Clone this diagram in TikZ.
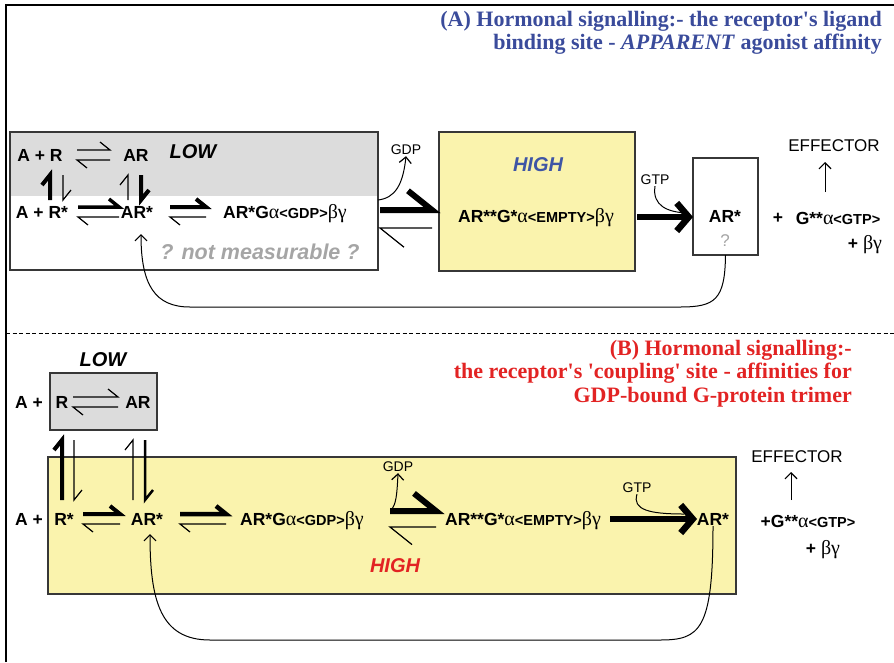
\documentclass[tikz,border=0pt]{standalone}
\usepackage{fontspec}
\setmainfont{Liberation Serif}
\setsansfont{Liberation Sans}
\newfontfamily\headserif{Liberation Serif}[Ligatures=TeXOff]
\usetikzlibrary{arrows.meta}

\definecolor{boxgrey}{RGB}{220,220,220}
\definecolor{paleyellow}{RGB}{250,243,173}
\definecolor{titleblue}{RGB}{58,75,155}
\definecolor{titlered}{RGB}{226,35,35}
\definecolor{highblue}{RGB}{62,85,165}
\definecolor{qgrey}{RGB}{165,165,165}
\definecolor{edgegrey}{RGB}{55,55,55}

% Greek letters in the serif face, bracketed tags slightly smaller
\newcommand{\gk}[1]{{\rmfamily\mdseries\fontsize{20}{20}\selectfont #1}}
\newcommand{\tagtxt}[1]{{\fontsize{14.5}{14.5}\selectfont #1}}

% equilibrium harpoons: [barb]{x1}{x2}{y}{half gap}{top width}{bottom width}
\newcommand{\eqpair}[7][10]{%
  \draw[line width=#6, line join=miter] (#2,#4-#5) -- (#3,#4-#5) -- ++(-#1,-0.8*#1);
  \draw[line width=#7, line join=miter] (#3,#4+#5) -- (#2,#4+#5) -- ++(#1,0.8*#1);}
% vertical harpoons: {x}{top}{bottom}{width}
\newcommand{\harpup}[4]{\draw[line width=#4, line join=miter] (#1,#3) -- (#1,#2) -- ++(-8,10);}
\newcommand{\harpdown}[4]{\draw[line width=#4, line join=miter] (#1,#2) -- (#1,#3) -- ++(8,-10);}

\tikzset{
  species/.style={font=\sffamily\bfseries\fontsize{17.5}{19}\selectfont, inner sep=1pt},
  plaintxt/.style={font=\sffamily\fontsize{17}{19}\selectfont, inner sep=1pt},
  smalltxt/.style={font=\sffamily\fontsize{14}{16}\selectfont, inner sep=1pt},
  regime/.style={font=\sffamily\bfseries\itshape\fontsize{20}{22}\selectfont, inner sep=1pt},
  remark/.style={font=\sffamily\bfseries\itshape\fontsize{21.5}{23}\selectfont, inner sep=1pt},
  heading/.style={font=\headserif\bfseries\fontsize{22}{23.5}\selectfont, align=right, anchor=north east, inner sep=0pt},
  panel/.style={draw=edgegrey, line width=1.4pt},
  blank/.style={inner sep=0pt, outer sep=0pt, anchor=north west},
  link/.style={line width=1pt, -{Straight Barb[length=6pt,width=12pt,line width=1.2pt]}},
  bigarrow/.style={line width=6pt, -{Straight Barb[length=12pt,width=28pt,line width=6.5pt]}},
}

\begin{document}
\begin{tikzpicture}[x=1pt,y=-1pt]
\useasboundingbox (0,0) rectangle (894,662);

% frame and divider
\draw[line width=1.8pt] (6,662) -- (6,5) -- (894,5);
\draw[line width=1pt, dash pattern=on 4pt off 2.5pt] (6,333) -- (894,333);

% ---------------- (A) ----------------
\node[heading, text=titleblue] (titleA) at (882,11)
  {(A) Hormonal signalling:- the receptor's ligand\\binding site - \textit{APPARENT} agonist affinity};

\node[blank, minimum width=368pt, minimum height=138pt] (lowA) at (10,132) {};
\fill[boxgrey] (lowA.north west) rectangle ([yshift=-64pt]lowA.north east);
\draw[panel] (lowA.north west) rectangle (lowA.south east);

\node[blank, minimum width=196pt, minimum height=139pt, fill=paleyellow, panel] (hiA) at (439,132) {};
\node[blank, minimum width=65pt, minimum height=97pt, fill=white, panel] (arboxA) at (693,158) {};

\node[species] (ApR) at (40,155) {A + R};
\node[species] (ARa) at (136,155) {AR};
\node[regime] (lowlblA) at (193,152) {LOW};
\node[species] (ApRs) at (42,212) {A + R*};
\node[species] (ARsA) at (137,212) {AR*};
\node[species] (ARGA) at (285,214) {AR*G\gk{α}\tagtxt{<GDP>}\gk{βγ}};
\node[remark, text=qgrey] (nmA) at (260,252) {? not measurable ?};

\eqpair{77}{110}{155}{5}{1.2pt}{1.2pt}
\eqpair{78}{119}{212}{5}{3.5pt}{1.2pt}
\eqpair{170}{206}{212}{5}{4pt}{1.2pt}
\harpup{50}{175}{200}{4pt}
\harpdown{63}{175}{200}{1.2pt}
\harpup{128}{175}{200}{1.2pt}
\harpdown{141}{175}{200}{4pt}

% exchange step between the two boxes
\eqpair[24]{380}{432}{219}{9}{6pt}{1.2pt}
\node[smalltxt] (gdpA) at (406,150) {GDP};
\draw[link] (lowA.east |- 0,200) .. controls (395,198) and (403,185) .. (gdpA.south);

\node[regime, text=highblue] (highA) at (538,165) {HIGH};
\node[species] (ARGeA) at (536,218) {AR**G*\gk{α}\tagtxt{<EMPTY>}\gk{βγ}};

\draw[bigarrow] (hiA.east |- 0,217) ++(2,0) -- (arboxA.west |- 0,217);
\node[smalltxt] (gtpA) at (655,180) {GTP};
\draw[line width=1pt] (gtpA.south) .. controls (652,206) and (668,212) .. (686,213);

\node[species] (ARsA2) at (725,216) {AR*};
\node[plaintxt, text=qgrey] (qA) at (725,241) {?};
\node[species] (plusA) at (778,218) {+};
\node[species] (GtpA) at (838,218) {G**\gk{α}\tagtxt{<GTP>}};
\node[species] (bgA) at (865,245) {+ \gk{βγ}};
\node[plaintxt] (effA) at (834,146) {EFFECTOR};
\draw[link] (825,192) -- (825,162);

\draw[link] (arboxA.south) .. controls (725,300) and (715,307) .. (680,307) -- (190,307)
  .. controls (155,307) and (141,285) .. (141,234);

% ---------------- (B) ----------------
\node[heading, text=titlered] (titleB) at (852,340)
  {(B) Hormonal signalling:-\\the receptor's 'coupling' site - affinities for\\GDP-bound G-protein trimer};

\node[regime] (lowlblB) at (103,360) {LOW};
\node[blank, minimum width=107pt, minimum height=57pt, fill=boxgrey, panel] (lowB) at (50,373) {};
\node[species] (AplusB1) at (29,402) {A +};
\node[species] (RB) at (62,402) {R};
\node[species] (ARB) at (138,402) {AR};
\eqpair{73}{118}{402}{5}{1.2pt}{1.2pt}

\node[blank, minimum width=688pt, minimum height=137pt, fill=paleyellow, panel] (hiB) at (48,457) {};

\harpup{62}{440}{500}{4pt}
\harpdown{74}{440}{500}{1.2pt}
\harpup{133}{440}{500}{1.2pt}
\harpdown{145}{440}{500}{2.5pt}

\node[species] (AplusB2) at (29,519) {A +};
\node[species] (RsB) at (64,519) {R*};
\node[species] (ARsB) at (147,519) {AR*};
\node[species] (ARGB) at (302,521) {AR*G\gk{α}\tagtxt{<GDP>}\gk{βγ}};
\eqpair{83}{120}{519}{5}{4pt}{1.2pt}
\eqpair{180}{226}{519}{5}{4.5pt}{1.2pt}

\eqpair[22]{390}{436}{519}{8}{6pt}{1.2pt}
\node[smalltxt] (gdpB) at (398,467) {GDP};
\draw[link] (391,510) .. controls (396,505) and (397,495) .. (gdpB.south);

\node[species] (ARGeB) at (523,521) {AR**G*\gk{α}\tagtxt{<EMPTY>}\gk{βγ}};
\draw[bigarrow] (ARGeB.east |- 0,519) ++(8,0) -- (697,519);
\node[smalltxt] (gtpB) at (637,488) {GTP};
\draw[line width=1pt] (gtpB.south) .. controls (632,510) and (650,514) .. (684,514);

\node[species] (ARsB2) at (713,519) {AR*};
\node[species] (GtpB) at (808,521) {+G**\gk{α}\tagtxt{<GTP>}};
\node[species] (bgB) at (823,550) {+ \gk{βγ}};
\node[plaintxt] (effB) at (797,457) {EFFECTOR};
\draw[link] (791,500) -- (791,472);

\node[regime, text=titlered] (highB) at (395,566) {HIGH};

\draw[link] (ARsB2.south) .. controls (713,630) and (700,640) .. (660,640) -- (210,640)
  .. controls (160,640) and (150,600) .. (150,534);
\end{tikzpicture}
\end{document}
